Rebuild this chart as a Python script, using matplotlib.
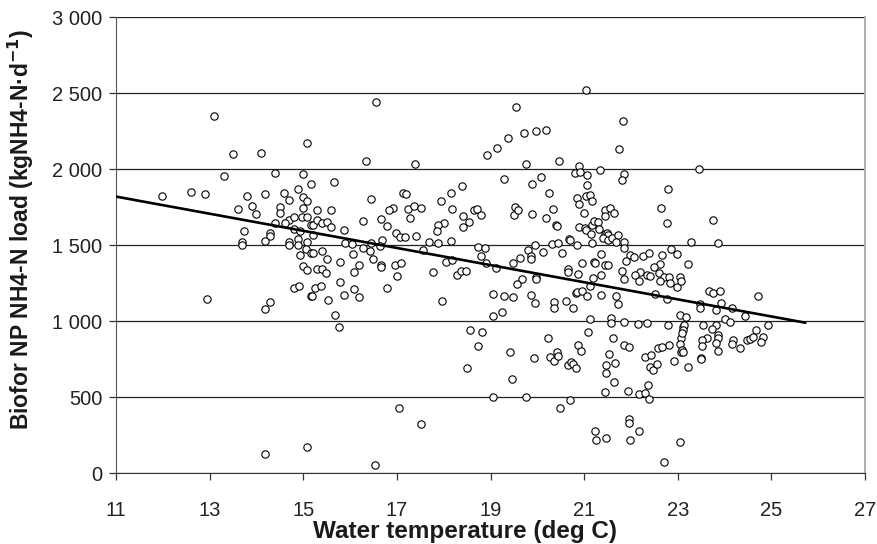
import numpy as np
import matplotlib.pyplot as plt
from matplotlib.ticker import FuncFormatter

# water temperature (deg C) and Biofor NP NH4-N load (kg/d)
temp = [
    13.10, 15.08, 13.50, 14.10, 14.40, 14.99, 13.30, 11.99, 12.60, 12.91, 13.79, 14.19,
    14.59, 14.89, 14.99, 15.09, 15.16, 14.70, 13.60, 13.90, 14.00, 14.50, 14.50, 14.99,
    14.69, 14.81, 14.98, 15.09, 14.40, 14.60, 14.80, 14.94, 15.16, 13.74, 14.29, 14.29,
    14.19, 13.70, 13.70, 14.70, 14.70, 14.89, 14.89, 15.09, 15.06, 15.16, 14.94, 14.99,
    15.09,
    14.80, 14.90, 15.16, 12.94, 14.30, 14.19, 15.09, 14.19,
    16.55, 16.33, 17.38, 18.92, 19.14, 15.65, 15.29, 15.60, 16.45, 17.12, 17.19, 16.92,
    16.83, 17.24, 17.36, 17.51, 17.28, 17.94, 18.16, 18.39, 18.18, 18.41, 18.65, 18.72,
    18.80, 18.53, 18.42, 18.01, 17.88, 17.85, 15.20, 15.29, 15.39, 15.50, 15.60, 15.87,
    16.28, 16.67, 16.78, 16.99, 17.07, 17.18, 17.41, 15.20, 15.89, 16.05, 16.45, 16.69,
    16.64, 17.68, 17.88, 18.15, 18.74, 18.88, 15.20, 15.39, 15.50, 15.29, 15.39, 15.49,
    16.06, 16.28, 16.43, 16.49, 15.79, 16.19, 16.08, 16.67, 16.67, 16.97, 17.09, 17.01,
    17.55, 18.05, 18.18, 18.80, 18.90, 19.11, 17.78, 18.28, 18.38, 18.48,
    15.18, 15.26, 15.38, 15.53, 15.79, 15.87, 16.09, 16.18, 16.79, 17.97, 19.06, 19.06,
    15.68, 15.77, 18.57, 18.82, 18.74, 18.49, 19.06, 17.04, 17.52, 16.53,
    21.03, 19.55, 21.82, 19.72, 19.97, 20.18, 19.37, 21.74, 19.76, 20.47, 20.89, 20.81,
    20.92, 21.06, 21.33, 21.85, 21.81, 19.28, 19.89, 20.08, 21.07, 20.25, 21.04, 21.12,
    20.84, 20.90, 21.16, 22.79, 19.52, 19.50, 19.58, 19.89, 20.18, 20.34, 20.99, 21.44,
    21.56, 21.63, 21.44, 22.65, 22.78, 20.39, 20.41, 20.88, 21.01, 21.04, 21.16, 21.22,
    21.30, 21.31, 21.15, 21.44, 21.49, 21.52, 21.40, 21.50, 21.59, 21.72, 21.69, 21.85,
    21.86, 20.67, 20.69, 20.84, 21.16, 20.32, 20.45, 19.95, 19.81, 20.13, 20.52, 19.86,
    19.86, 19.63, 19.47, 21.36, 20.96, 21.21, 21.24, 21.44, 21.50, 21.99, 22.06, 21.89,
    22.25, 22.38, 22.67, 22.86, 22.99, 23.21, 22.62, 22.50, 20.66, 20.66, 20.86, 21.81,
    22.20, 22.08, 22.34, 22.41, 22.60, 22.71, 22.82, 23.05, 19.67, 19.97, 19.98, 21.19,
    21.36, 21.86,
    19.57, 22.18, 22.63, 22.83, 22.98, 23.08, 19.29, 19.47, 19.86, 19.94, 20.35, 20.36,
    20.62, 20.77, 20.82, 20.84, 20.96, 21.06, 21.12, 21.37, 21.68, 21.72, 22.52, 22.76,
    19.25, 21.13, 21.57, 21.57, 21.85, 22.15, 22.34, 22.79, 23.04, 23.18, 21.08, 20.23,
    21.61, 21.85, 21.96, 22.81, 22.57, 22.67, 23.11, 23.07, 23.04, 23.07, 23.10, 19.41,
    19.93, 20.28, 20.36, 20.41, 20.44, 20.86, 20.94, 20.66, 20.72, 20.77, 20.82, 21.53,
    21.46, 21.47, 21.66, 21.63, 22.30, 22.42, 22.40, 22.47, 22.56, 22.93, 19.45, 22.37,
    21.94, 21.44, 22.17, 22.29, 22.39, 19.76, 20.69, 20.48, 21.96, 21.96, 22.18, 21.23,
    21.26, 21.46, 21.97, 23.05, 22.70,
    23.45, 23.75, 23.28, 23.87,
    23.67, 23.76, 23.91, 24.72, 23.47, 23.48, 23.92, 23.81, 24.15, 24.44, 24.01, 24.11,
    23.53, 23.82, 23.74, 24.92, 24.68, 24.83, 24.77, 24.49, 24.55, 24.60, 24.17, 24.16,
    24.34, 23.85, 23.85, 23.81, 23.86, 23.62, 23.51, 23.51, 23.50, 23.50, 23.22, 23.13,
    23.11, 23.09, 23.11,
]
load = [
    2348, 2175, 2102, 2107, 1977, 1971, 1955, 1826, 1850, 1841, 1828, 1841,
    1846, 1872, 1817, 1795, 1903, 1797, 1740, 1762, 1707, 1753, 1712, 1747,
    1668, 1690, 1690, 1690, 1646, 1646, 1609, 1596, 1635, 1596, 1580, 1560,
    1532, 1523, 1501, 1521, 1501, 1541, 1501, 1523, 1477, 1451, 1435, 1365,
    1341,
    1218, 1234, 1170, 1150, 1131, 1080, 177, 126,
    2442, 2054, 2036, 2096, 2139, 1918, 1734, 1732, 1804, 1843, 1839, 1749,
    1734, 1738, 1756, 1747, 1679, 1793, 1843, 1889, 1742, 1692, 1734, 1740,
    1701, 1655, 1620, 1650, 1633, 1596, 1635, 1668, 1650, 1657, 1624, 1598,
    1661, 1674, 1626, 1580, 1556, 1556, 1563, 1567, 1519, 1510, 1514, 1536,
    1499, 1523, 1514, 1530, 1488, 1486, 1449, 1466, 1411, 1343, 1343, 1317,
    1446, 1481, 1466, 1411, 1389, 1372, 1324, 1370, 1359, 1370, 1387, 1302,
    1471, 1392, 1403, 1433, 1387, 1350, 1328, 1306, 1332, 1332,
    1170, 1218, 1234, 1144, 1258, 1175, 1212, 1159, 1221, 1137, 1181, 1036,
    1043, 962, 944, 931, 841, 696, 506, 433, 324, 56,
    2520, 2413, 2319, 2242, 2251, 2262, 2205, 2137, 2034, 2056, 2023, 1974,
    1981, 1961, 1994, 1968, 1928, 1939, 1904, 1950, 1895, 1847, 1827, 1834,
    1810, 1770, 1792, 1873, 1753, 1702, 1731, 1707, 1680, 1738, 1713, 1731,
    1744, 1713, 1694, 1744, 1648, 1637, 1628, 1619, 1613, 1599, 1634, 1663,
    1652, 1606, 1577, 1575, 1584, 1567, 1547, 1536, 1547, 1569, 1525, 1525,
    1485, 1542, 1534, 1503, 1518, 1512, 1518, 1505, 1468, 1459, 1448, 1428,
    1413, 1420, 1387, 1444, 1382, 1393, 1382, 1374, 1374, 1435, 1424, 1398,
    1431, 1448, 1437, 1474, 1446, 1378, 1378, 1356, 1343, 1325, 1314, 1330,
    1325, 1306, 1306, 1299, 1321, 1294, 1294, 1290, 1277, 1294, 1277, 1286,
    1306, 1277,
    1243, 1269, 1269, 1251, 1229, 1269, 1164, 1159, 1175, 1122, 1128, 1089,
    1133, 1089, 1185, 1194, 1203, 1166, 1234, 1175, 1164, 1115, 1181, 1146,
    1063, 1014, 1025, 988, 997, 984, 992, 977, 1043, 1028, 933, 892,
    892, 848, 832, 848, 828, 832, 966, 889, 852, 802, 813, 802,
    760, 769, 740, 802, 771, 843, 808, 714, 732, 718, 692, 784,
    714, 664, 729, 604, 764, 780, 701, 683, 718, 742, 620, 585,
    543, 534, 523, 528, 490, 506, 482, 433, 359, 330, 278, 282,
    223, 234, 221, 205, 76,
    2003, 1665, 1521, 1514,
    1199, 1185, 1203, 1170, 1113, 1089, 1124, 1076, 1091, 1036, 1014, 995,
    975, 979, 949, 975, 944, 900, 863, 878, 887, 900, 878, 854,
    826, 911, 889, 857, 804, 892, 878, 837, 760, 751, 703, 977,
    944, 922, 802,
]

# linear trend line end points
trend_x = [11.0, 25.72]
trend_y = [1821, 992]

plt.rcParams['font.family'] = ['Liberation Sans', 'DejaVu Sans']

fig = plt.figure(figsize=(8.77, 5.44), dpi=100)
ax = fig.add_axes([0.1323, 0.1296, 0.8540, 0.8386])

ax.scatter(temp, load, s=28, facecolors='white', edgecolors='black', linewidths=0.8, zorder=3)
ax.plot(trend_x, trend_y, color='black', lw=1.9, zorder=4)

ax.set_xlim(11, 27)
ax.set_ylim(0, 3000)
ax.set_xticks(np.arange(11, 28, 2))
ax.set_yticks(np.arange(0, 3001, 500))
ax.yaxis.set_major_formatter(FuncFormatter(lambda v, p: f"{int(v):,}".replace(",", " ")))
ax.grid(axis='y', color='#222222', lw=0.9)
ax.set_axisbelow(True)

ax.spines['left'].set_color('#555555')
ax.spines['bottom'].set_color('#333333')
ax.spines['top'].set_visible(False)
ax.spines['right'].set_color('#b0b0b0')
ax.spines['right'].set_linewidth(1.5)
ax.tick_params(axis='both', labelsize=14.5, length=5, width=0.9, color='#333333',
               labelcolor='#222222')
ax.tick_params(axis='x', pad=15)
ax.tick_params(axis='y', pad=5)

ax.set_xlabel('Water temperature (deg C)', fontsize=17.5, fontweight='bold',
              color='#1a1a1a', va='center')
ax.xaxis.set_label_coords(0.466, -0.128)
ax.set_ylabel('Biofor NP NH4-N load (kgNH4-N·d$^{\\mathbf{-1}}$)', fontsize=16.5,
              fontweight='bold', color='#1a1a1a', va='center',
              family=['Liberation Sans Narrow', 'Liberation Sans', 'DejaVu Sans'])
ax.yaxis.set_label_coords(-0.127, 0.536)

fig.savefig('out.png', dpi=100)
